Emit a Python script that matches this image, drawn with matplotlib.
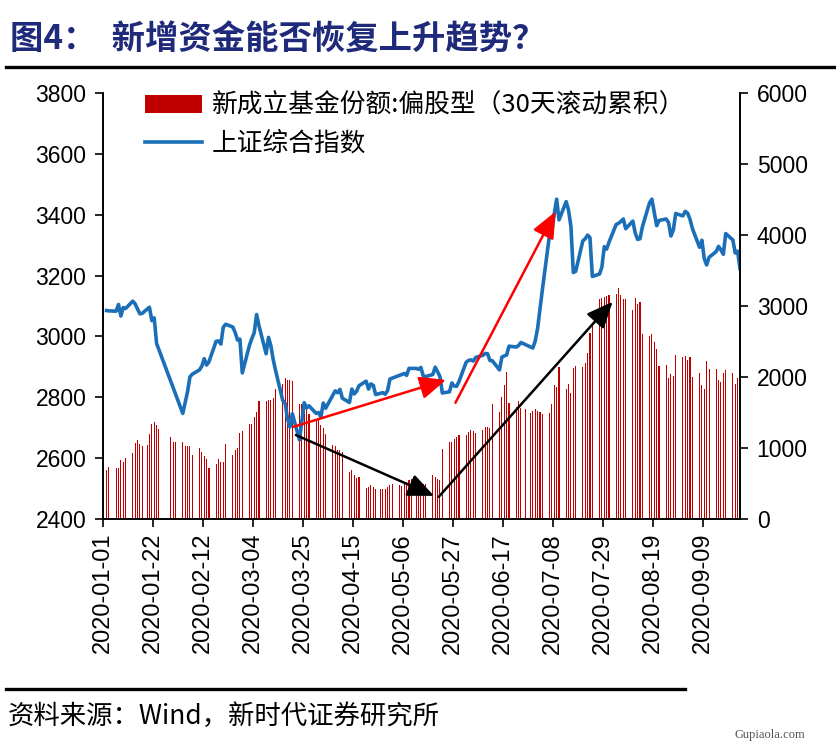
import numpy as np
import matplotlib
matplotlib.use("Agg")
import matplotlib.pyplot as plt
import matplotlib.dates as mdates
from matplotlib.patches import Patch
from matplotlib.lines import Line2D

CJK = ['Noto Sans CJK SC', 'DejaVu Sans']
plt.rcParams['font.family'] = ['Liberation Sans', 'Noto Sans CJK SC', 'DejaVu Sans']

# ---------------- data ----------------
title = "图4：  新增资金能否恢复上升趋势？"
source = "资料来源：Wind，新时代证券研究所"
bar_label = "新成立基金份额:偏股型（30天滚动累积）"
line_label = "上证综合指数"

idx_dates = [
    "2020-01-02","2020-01-03","2020-01-06","2020-01-07","2020-01-08","2020-01-09","2020-01-10",
    "2020-01-13","2020-01-14","2020-01-15","2020-01-16","2020-01-17","2020-01-20","2020-01-21",
    "2020-01-22","2020-01-23",
    "2020-02-03","2020-02-04","2020-02-05","2020-02-06","2020-02-07","2020-02-10","2020-02-11",
    "2020-02-12","2020-02-13","2020-02-14","2020-02-17","2020-02-18","2020-02-19","2020-02-20",
    "2020-02-21","2020-02-24","2020-02-25","2020-02-26","2020-02-27","2020-02-28",
    "2020-03-02","2020-03-03","2020-03-04","2020-03-05","2020-03-06","2020-03-09","2020-03-10",
    "2020-03-11","2020-03-12","2020-03-13","2020-03-16","2020-03-17","2020-03-18","2020-03-19",
    "2020-03-20","2020-03-23","2020-03-24","2020-03-25","2020-03-26","2020-03-27","2020-03-30",
    "2020-03-31",
    "2020-04-01","2020-04-02","2020-04-03","2020-04-07","2020-04-08","2020-04-09","2020-04-10",
    "2020-04-13","2020-04-14","2020-04-15","2020-04-16","2020-04-17","2020-04-20","2020-04-21",
    "2020-04-22","2020-04-23","2020-04-24","2020-04-27","2020-04-28","2020-04-29","2020-04-30",
    "2020-05-06","2020-05-07","2020-05-08","2020-05-11","2020-05-12","2020-05-13","2020-05-14",
    "2020-05-15","2020-05-18","2020-05-19","2020-05-20","2020-05-21","2020-05-22","2020-05-25",
    "2020-05-26","2020-05-27","2020-05-28","2020-05-29",
    "2020-06-01","2020-06-02","2020-06-03","2020-06-04","2020-06-05","2020-06-08","2020-06-09",
    "2020-06-10","2020-06-11","2020-06-12","2020-06-15","2020-06-16","2020-06-17","2020-06-18",
    "2020-06-19","2020-06-22","2020-06-23","2020-06-24","2020-06-29","2020-06-30",
    "2020-07-01","2020-07-02","2020-07-03","2020-07-06","2020-07-07","2020-07-08","2020-07-09",
    "2020-07-10","2020-07-13","2020-07-14","2020-07-15","2020-07-16","2020-07-17","2020-07-20",
    "2020-07-21","2020-07-22","2020-07-23","2020-07-24","2020-07-27","2020-07-28","2020-07-29",
    "2020-07-30","2020-07-31",
    "2020-08-03","2020-08-04","2020-08-05","2020-08-06","2020-08-07","2020-08-10","2020-08-11",
    "2020-08-12","2020-08-13","2020-08-14","2020-08-17","2020-08-18","2020-08-19","2020-08-20",
    "2020-08-21","2020-08-24","2020-08-25","2020-08-26","2020-08-27","2020-08-28","2020-08-31",
    "2020-09-01","2020-09-02","2020-09-03","2020-09-04","2020-09-07","2020-09-08","2020-09-09",
    "2020-09-10","2020-09-11","2020-09-14","2020-09-15","2020-09-16","2020-09-17","2020-09-18",
    "2020-09-21","2020-09-22","2020-09-23","2020-09-24",
]
idx_values = [
    3085, 3084, 3083, 3105, 3067, 3095, 3092, 3116, 3107, 3090, 3074, 3076, 3096, 3052, 3061, 2977,
    2747, 2783, 2818, 2867, 2876, 2890, 2902, 2927, 2906, 2917, 2984, 2985, 2975, 3030, 3040,
    3031, 3013, 2988, 2991, 2880,
    2971, 2993, 3012, 3072, 3035, 2943, 2997, 2969, 2923, 2887, 2789, 2780, 2729, 2702, 2746,
    2660, 2722, 2782, 2765, 2772, 2747, 2750,
    2735, 2781, 2764, 2821, 2815, 2826, 2797, 2783, 2827, 2811, 2820, 2838, 2853, 2827, 2844,
    2839, 2809, 2815, 2810, 2822, 2860,
    2878, 2872, 2895, 2895, 2892, 2898, 2870, 2868, 2875, 2899, 2884, 2868, 2814, 2818, 2847,
    2837, 2836, 2852,
    2915, 2921, 2923, 2919, 2931, 2938, 2944, 2943, 2921, 2920, 2890, 2932, 2936, 2939, 2968,
    2965, 2970, 2980, 2962, 2985,
    3026, 3091, 3153, 3333, 3345, 3403, 3451, 3383, 3443, 3415, 3361, 3210, 3214, 3314, 3321,
    3333, 3325, 3197, 3205, 3228, 3295, 3287, 3310,
    3368, 3372, 3378, 3386, 3354, 3379, 3340, 3319, 3321, 3360, 3439, 3451, 3408, 3364, 3381,
    3386, 3374, 3330, 3350, 3404, 3396,
    3411, 3405, 3385, 3355, 3293, 3316, 3255, 3235, 3260, 3279, 3296, 3284, 3270, 3338, 3317,
    3274, 3280, 3223,
]

fund_dates = [
    "2020-01-02","2020-01-03","2020-01-06","2020-01-07","2020-01-08","2020-01-09","2020-01-10",
    "2020-01-13","2020-01-14","2020-01-15","2020-01-16","2020-01-17","2020-01-19","2020-01-20",
    "2020-01-21","2020-01-22","2020-01-23","2020-01-24","2020-01-29","2020-01-30","2020-01-31",
    "2020-02-03","2020-02-04","2020-02-05","2020-02-06","2020-02-07","2020-02-10","2020-02-11",
    "2020-02-12","2020-02-13","2020-02-14","2020-02-17","2020-02-18","2020-02-19","2020-02-20",
    "2020-02-21","2020-02-24","2020-02-25","2020-02-26","2020-02-27","2020-02-28",
    "2020-03-02","2020-03-03","2020-03-04","2020-03-05","2020-03-06","2020-03-09","2020-03-10",
    "2020-03-11","2020-03-12","2020-03-13","2020-03-16","2020-03-17","2020-03-18","2020-03-19",
    "2020-03-20","2020-03-23","2020-03-24","2020-03-25","2020-03-26","2020-03-27","2020-03-30",
    "2020-03-31","2020-04-01","2020-04-02","2020-04-03","2020-04-06","2020-04-07","2020-04-08",
    "2020-04-09","2020-04-10","2020-04-13","2020-04-14","2020-04-15","2020-04-16","2020-04-17",
    "2020-04-20","2020-04-21","2020-04-22","2020-04-23","2020-04-24","2020-04-26","2020-04-27",
    "2020-04-28","2020-04-29","2020-04-30","2020-05-01","2020-05-04","2020-05-05","2020-05-06",
    "2020-05-07","2020-05-08","2020-05-09","2020-05-11","2020-05-12","2020-05-13","2020-05-14",
    "2020-05-15","2020-05-18","2020-05-19","2020-05-20","2020-05-21","2020-05-22","2020-05-25",
    "2020-05-26","2020-05-27","2020-05-28","2020-05-29","2020-06-01","2020-06-02","2020-06-03",
    "2020-06-04","2020-06-05","2020-06-08","2020-06-09","2020-06-10","2020-06-11","2020-06-12",
    "2020-06-15","2020-06-16","2020-06-17","2020-06-18","2020-06-19","2020-06-22","2020-06-23",
    "2020-06-24","2020-06-26","2020-06-28","2020-06-29","2020-06-30","2020-07-01","2020-07-02",
    "2020-07-03","2020-07-06","2020-07-07","2020-07-08","2020-07-09","2020-07-10","2020-07-13",
    "2020-07-14","2020-07-15","2020-07-16","2020-07-17","2020-07-20","2020-07-21","2020-07-22",
    "2020-07-23","2020-07-24","2020-07-27","2020-07-28","2020-07-29","2020-07-30","2020-07-31",
    "2020-08-03","2020-08-04","2020-08-05","2020-08-06","2020-08-07","2020-08-10","2020-08-11",
    "2020-08-12","2020-08-13","2020-08-14","2020-08-17","2020-08-18","2020-08-19","2020-08-20",
    "2020-08-21","2020-08-24","2020-08-25","2020-08-26","2020-08-27","2020-08-28","2020-08-31",
    "2020-09-01","2020-09-02","2020-09-03","2020-09-04","2020-09-07","2020-09-08","2020-09-09",
    "2020-09-10","2020-09-11","2020-09-14","2020-09-15","2020-09-16","2020-09-17","2020-09-18",
    "2020-09-21","2020-09-22","2020-09-23","2020-09-24",
]
fund_values = [
    690, 733, 725, 725, 827, 804, 865,
    930, 1070, 1108, 1052, 1023, 1037, 1201,
    1341, 1364, 1318, 1271, 1154, 1084, 1084,
    1084, 1023, 1023, 1023, 897, 1005, 944,
    883, 851, 725, 781, 851, 804, 804,
    1052, 897, 967, 1000, 1210, 1238,
    1332, 1345, 1440, 1505, 1668, 1668, 1678,
    1678, 1710, 1832, 1900, 1990, 1960, 1960,
    1950, 1620, 1620, 1645, 1620, 1480, 1388,
    1411, 1318, 1285, 1201, 1037, 1023, 967,
    967, 944, 664, 697, 617, 580, 593,
    430, 453, 477, 453, 416, 416, 416,
    416, 444, 477, 491, 477, 463, 500,
    523, 547, 570, 500, 510, 505, 495,
    500, 617, 593, 570, 556, 991, 1084,
    1084, 1131, 1154, 1178, 1178, 1224, 1257,
    1238, 1210, 1250, 1290, 1295, 1285, 1621,
    1505, 1724, 1893, 2065, 1631, 1575, 1659,
    1566, 1552, 1491, 1528, 1552, 1528, 1505,
    1481, 1491, 1621, 1893, 1865, 2136, 1832,
    1902, 1771, 2126, 2159, 2145, 2192, 2332,
    2626, 2720, 3094, 3117, 3126, 3141, 3155,
    3164, 3257, 3155, 3094, 3094, 2940, 3108,
    3024, 3061, 2612, 2580, 2612, 2486, 2393,
    2159, 2173, 1986, 2042, 2019, 2313, 2285,
    2299, 2239, 2285, 2005, 2052, 1893, 1832,
    2229, 2112, 2108, 1958, 1925, 2052, 2098,
    2052, 1902, 1986, 1995,
]

tick_dates = ["2020-01-01","2020-01-22","2020-02-12","2020-03-04","2020-03-25","2020-04-15",
              "2020-05-06","2020-05-27","2020-06-17","2020-07-08","2020-07-29","2020-08-19",
              "2020-09-09"]
left_ticks = [2400, 2600, 2800, 3000, 3200, 3400, 3600, 3800]
right_ticks = [0, 1000, 2000, 3000, 4000, 5000, 6000]

# annotation arrows: (start date, start value, end date, end value, colour)
arrows = [
    ("2020-03-21", 2703, "2020-05-24", 2857, "#FF0000"),
    ("2020-05-28", 2782, "2020-07-09", 3410, "#FF0000"),
    ("2020-03-22", 2676, "2020-05-19", 2476, "#000000"),
    ("2020-05-21", 2473, "2020-08-02", 3114, "#000000"),
]

# ---------------- figure ----------------
W, H = 837, 744
fig = plt.figure(figsize=(W / 100, H / 100), dpi=100)
fig.patch.set_facecolor("white")
ax = fig.add_axes([103 / W, 1 - 519 / H, 637 / W, 426 / H])
ax2 = ax.twinx()
ax.set_zorder(ax2.get_zorder() + 1)
ax.patch.set_visible(False)

def dnum(s):
    return mdates.datestr2num(s)

off = 0.5
fx = np.array([dnum(d) for d in fund_dates]) + off
ix = np.array([dnum(d) for d in idx_dates]) + off

ax2.bar(fx, fund_values, width=0.45, color="#C00000", linewidth=0)
ax.plot(ix, idx_values, color="#1B6FB8", lw=2.6, solid_joinstyle="round")

for (d0, v0, d1, v1, c) in arrows:
    ax.annotate("", xy=(dnum(d1), v1), xytext=(dnum(d0), v0),
                arrowprops=dict(arrowstyle="-|>,head_length=0.8,head_width=0.35",
                                mutation_scale=20, color=c, lw=1.8,
                                shrinkA=0, shrinkB=0))

x0 = dnum("2020-01-01")
ax.set_xlim(x0, x0 + 267.5)
ax.set_ylim(2400, 3800)
ax2.set_ylim(0, 6000)

ax.set_xticks([dnum(d) for d in tick_dates])
ax.set_xticklabels(tick_dates, rotation=90, fontsize=17)
ax.set_yticks(left_ticks)
ax.set_yticklabels([str(v) for v in left_ticks], fontsize=16.5)
ax2.set_yticks(right_ticks)
ax2.set_yticklabels([str(v) for v in right_ticks], fontsize=16.5)

for a in (ax, ax2):
    a.spines["top"].set_visible(False)
    for s in ("left", "right", "bottom"):
        a.spines[s].set_linewidth(1.2)
    a.tick_params(direction="out", length=6, width=1.2, pad=6)

ax.tick_params(axis="x", pad=4)

handles = [Patch(facecolor="#C00000", edgecolor="none"),
           Line2D([0], [0], color="#1B6FB8", lw=2.6)]
leg = ax.legend(handles, [bar_label, line_label], loc="upper left",
                bbox_to_anchor=(0.066, 1.0), frameon=False,
                prop={"family": CJK, "size": 18.5}, handlelength=2.2,
                handletextpad=0.4, labelspacing=0.45, borderaxespad=0, borderpad=0)

# title, rules, source
fig.text(10 / W, 1 - 40 / H, title, fontsize=24, fontweight="bold", color="#1F2A7A",
         va="center", ha="left", family=CJK)
fig.add_artist(Line2D([6 / W, 1.0], [1 - 67 / H, 1 - 67 / H], color="black", lw=2.4))
fig.add_artist(Line2D([6 / W, 685 / W], [1 - 689 / H, 1 - 689 / H], color="black", lw=2.4))
fig.text(8 / W, 1 - 716 / H, source, fontsize=19, va="center", ha="left", family=CJK)
fig.text(770 / W, 1 - 735 / H, "Gupiaola.com", fontsize=9, va="center", ha="center",
         color="#555555", family=["Liberation Serif", "DejaVu Serif"])

fig.savefig("out.png", dpi=100, facecolor="white")
